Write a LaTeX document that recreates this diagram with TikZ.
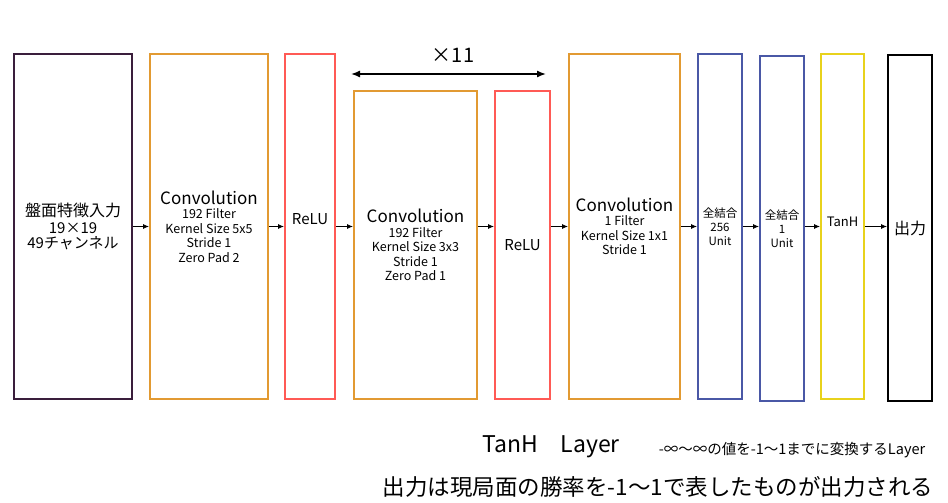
\documentclass[tikz,border=0pt]{standalone}
\usepackage{fontspec}
\setmainfont{Noto Sans CJK JP}
\usepackage{xcolor}
\usetikzlibrary{arrows.meta}

\definecolor{inputcol}{HTML}{3A1E3C}
\definecolor{convcol}{HTML}{E29A32}
\definecolor{relucol}{HTML}{FF5A55}
\definecolor{fccol}{HTML}{4A58A6}
\definecolor{tanhcol}{HTML}{E8D21C}

\tikzset{
	layer/.style={draw,line width=2pt,fill=white,inner sep=0pt,anchor=north west,align=center,
		font=\fontsize{12.5}{14.5}\selectfont},
	arr/.style={-{Latex[length=6pt,width=5pt]},line width=0.8pt},
}

\begin{document}
\begin{tikzpicture}[x=1pt,y=-1pt]
		\useasboundingbox (0,0) rectangle (948,503);
		
		\node[layer,draw=inputcol,minimum width=118pt,minimum height=345pt] (input) at (13,53) 
		{{\fontsize{16}{16}\selectfont 盤面特徴入力}\\[2pt]
		{\fontsize{15}{15}\selectfont 19×19}\\[1pt]
		{\fontsize{15}{15}\selectfont 49チャンネル}};
		
		\node[layer,draw=convcol,minimum width=118pt,minimum height=345pt] (conva) at (149,53) 
		{{\fontsize{17}{17}\selectfont Convolution}\\[0pt]
		192 Filter\\ Kernel Size 5x5\\ Stride 1\\ Zero Pad 2};
		
		\node[layer,draw=relucol,minimum width=50pt,minimum height=345pt] (relua) at (284,53) 
		{\raisebox{14pt}{\fontsize{15}{15}\selectfont ReLU}};
		
		\node[layer,draw=convcol,minimum width=123pt,minimum height=308pt] (convb) at (353,90) 
		{{\fontsize{17}{17}\selectfont Convolution}\\[0pt]
		192 Filter\\ Kernel Size 3x3\\ Stride 1\\ Zero Pad 1};
		
		\node[layer,draw=relucol,minimum width=55pt,minimum height=308pt] (relub) at (494,90) 
		{{\fontsize{15}{15}\selectfont ReLU}};
		
		\node[layer,draw=convcol,minimum width=111pt,minimum height=345pt] (convc) at (568,53) 
		{{\fontsize{17}{17}\selectfont Convolution}\\[0pt]
		1 Filter\\ Kernel Size 1x1\\ Stride 1};
		
		\node[layer,draw=fccol,minimum width=44pt,minimum height=345pt,
		font=\fontsize{11.5}{14}\selectfont] (fca) at (697,53) 
		{全結合\\ 256\\ Unit};
		
		\node[layer,draw=fccol,minimum width=44pt,minimum height=345pt,
		font=\fontsize{11.5}{14}\selectfont] (fcb) at (759,55) 
		{全結合\\ 1\\ Unit};
		
		\node[layer,draw=tanhcol,minimum width=43pt,minimum height=345pt] (tanh) at (820,53) 
		{\raisebox{10pt}{\fontsize{13}{13}\selectfont TanH}};
		
		\node[layer,draw=black,minimum width=44pt,minimum height=346pt] (output) at (887,54) 
		{{\fontsize{16}{16}\selectfont 出力}};
		
		% arrows between layers
		\draw[arr] (input.east) -- (conva.west);
		\draw[arr] (conva.east) -- (relua.west);
		\draw[arr] (relua.east) -- (convb.west |- relua.east);
		\draw[arr] (convb.east |- relua.east) -- (relub.west |- relua.east);
		\draw[arr] (relub.east |- relua.east) -- (convc.west);
		\draw[arr] (convc.east) -- (fca.west);
		\draw[arr] (fca.east) -- (fcb.west |- fca.east);
		\draw[arr] (fcb.east |- fca.east) -- (tanh.west);
		\draw[arr] (tanh.east) -- (output.west |- tanh.east);
		
		% repeat mark
		\coordinate (repl) at (351,74);
		\coordinate (repr) at (546,74);
		\draw[{Latex[length=9pt,width=7pt]}-{Latex[length=9pt,width=7pt]},line width=1.4pt] 
		(repl) -- (repr);
		\node[font=\fontsize{20}{20}\selectfont] (rep) at (453,55) {×11};
		
		% notes
		\node[font=\fontsize{23}{23}\selectfont] (notea) at (551,447) {TanH\hspace{1em}Layer};
		\node[font=\fontsize{14.5}{14.5}\selectfont] (noteb) at (792,450) 
		{-∞〜∞の値を-1〜1までに変換するLayer};
		\node[font=\fontsize{22.5}{22.5}\selectfont] (notec) at (658,487) 
		{出力は現局面の勝率を-1〜1で表したものが出力される};
	\end{tikzpicture}
\end{document}
